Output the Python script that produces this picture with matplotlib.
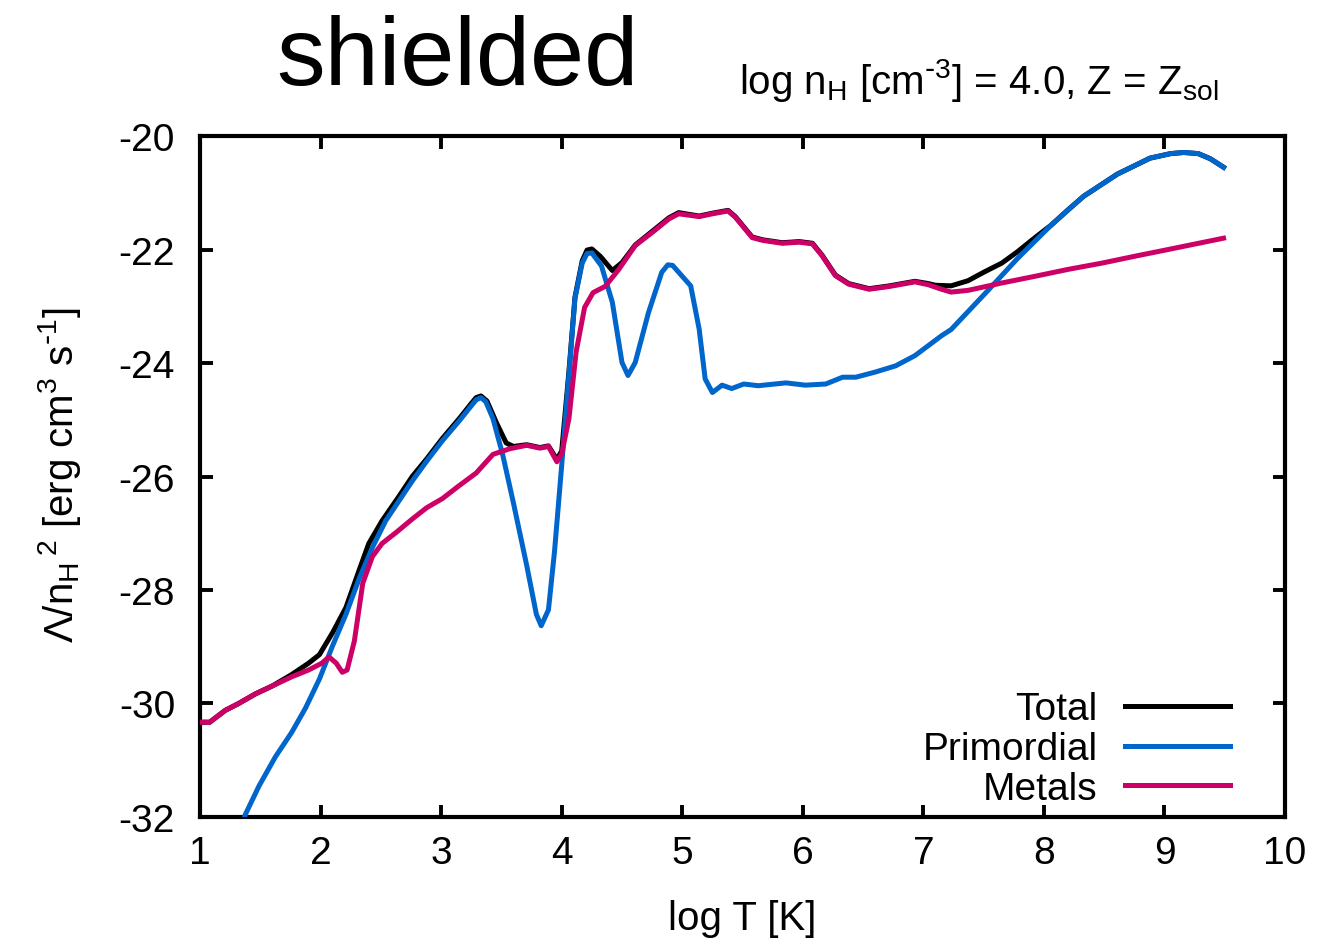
import matplotlib
matplotlib.use('Agg')
import matplotlib.pyplot as plt

plt.rcParams['font.family'] = ['Liberation Sans', 'DejaVu Sans']
plt.rcParams['mathtext.default'] = 'regular'
plt.rcParams['axes.unicode_minus'] = False

# Metals cooling curve (log T, log Lambda/nH^2)
metals_x = [1.00, 1.08, 1.21, 1.32, 1.46, 1.60, 1.76, 1.90, 2.01, 2.07, 2.13, 2.18,
            2.22, 2.28, 2.35, 2.43, 2.51, 2.63, 2.76, 2.88, 3.01, 3.15, 3.29, 3.43,
            3.57, 3.71, 3.82, 3.89, 3.96, 4.00, 4.06, 4.12, 4.19, 4.26, 4.36, 4.47,
            4.61, 4.75, 4.89, 4.97, 5.14, 5.25, 5.38, 5.44, 5.58, 5.67, 5.83, 5.97,
            6.08, 6.16, 6.27, 6.38, 6.55, 6.72, 6.93, 7.04, 7.15, 7.23, 7.37, 7.65,
            7.93, 8.20, 8.48, 8.75, 9.03, 9.49]
metals_y = [-30.33, -30.33, -30.12, -30.00, -29.83, -29.69, -29.53, -29.41, -29.29, -29.18, -29.29, -29.45,
            -29.41, -28.90, -27.88, -27.41, -27.18, -26.98, -26.75, -26.55, -26.39, -26.16, -25.94, -25.61,
            -25.51, -25.45, -25.50, -25.47, -25.74, -25.60, -24.98, -23.80, -23.02, -22.76, -22.65, -22.36,
            -21.93, -21.70, -21.46, -21.37, -21.42, -21.37, -21.32, -21.43, -21.79, -21.84, -21.89, -21.87,
            -21.90, -22.11, -22.46, -22.61, -22.70, -22.65, -22.57, -22.62, -22.70, -22.75, -22.72, -22.59,
            -22.47, -22.35, -22.24, -22.12, -22.00, -21.80]

# Primordial cooling curve
prim_x = [1.33, 1.375, 1.49, 1.625, 1.76, 1.875, 1.99, 2.10, 2.21, 2.32, 2.43, 2.54,
          2.65, 2.76, 2.88, 3.01, 3.15, 3.24, 3.29, 3.33, 3.37, 3.43, 3.51, 3.60, 3.71,
          3.79, 3.83, 3.89, 3.94, 4.00, 4.06, 4.11, 4.17, 4.21, 4.25, 4.33, 4.42, 4.50,
          4.55, 4.61, 4.72, 4.83, 4.88, 4.92, 4.97, 5.07, 5.14, 5.19, 5.25, 5.33, 5.41,
          5.51, 5.63, 5.86, 6.02, 6.19, 6.33, 6.44, 6.60, 6.77, 6.93, 7.15, 7.23,
          7.51, 7.78, 8.06, 8.33, 8.61, 8.88, 9.05, 9.16, 9.28, 9.38, 9.49]
prim_y = [-32.30, -31.96, -31.45, -30.94, -30.51, -30.08, -29.57, -28.98, -28.43, -27.80, -27.25, -26.78,
          -26.43, -26.08, -25.73, -25.37, -25.02, -24.78, -24.65, -24.61, -24.68, -24.98, -25.61, -26.47, -27.57,
          -28.43, -28.63, -28.35, -27.33, -25.80, -24.20, -22.86, -22.24, -22.07, -22.06, -22.29, -22.93, -23.99,
          -24.22, -23.99, -23.11, -22.40, -22.27, -22.28, -22.40, -22.64, -23.40, -24.28, -24.52, -24.39, -24.45,
          -24.37, -24.40, -24.35, -24.39, -24.37, -24.25, -24.25, -24.16, -24.05, -23.87, -23.52, -23.41,
          -22.78, -22.16, -21.57, -21.06, -20.67, -20.39, -20.31, -20.29, -20.31, -20.40, -20.55]

# Total cooling curve
total_x = [1.00, 1.08, 1.21, 1.32, 1.46, 1.60, 1.76, 1.90, 1.99, 2.10, 2.21, 2.32,
           2.40, 2.51, 2.65, 2.76, 2.88, 3.01, 3.15, 3.24, 3.29, 3.33, 3.38, 3.46, 3.54,
           3.60, 3.71, 3.82, 3.89, 3.96, 4.00, 4.06, 4.11, 4.17, 4.21, 4.25, 4.32, 4.42,
           4.50, 4.61, 4.75, 4.89, 4.97, 5.14, 5.25, 5.38, 5.44, 5.58, 5.67, 5.83,
           5.97, 6.08, 6.16, 6.27, 6.38, 6.55, 6.72, 6.93, 7.04, 7.10, 7.23, 7.37,
           7.51, 7.65, 7.78, 7.92, 8.06, 8.20, 8.33, 8.61, 8.88, 9.05, 9.16, 9.28, 9.38, 9.49]
total_y = [-30.33, -30.33, -30.12, -30.00, -29.83, -29.69, -29.49, -29.29, -29.14, -28.75, -28.31, -27.65,
           -27.18, -26.78, -26.35, -26.00, -25.69, -25.33, -24.98, -24.74, -24.61, -24.58, -24.67, -25.06, -25.41,
           -25.47, -25.44, -25.49, -25.46, -25.70, -25.55, -24.15, -22.84, -22.20, -22.01, -21.99, -22.12, -22.37,
           -22.23, -21.92, -21.68, -21.44, -21.35, -21.41, -21.36, -21.31, -21.42, -21.78, -21.83, -21.88,
           -21.86, -21.89, -22.10, -22.45, -22.60, -22.69, -22.64, -22.56, -22.60, -22.63, -22.64, -22.55,
           -22.39, -22.24, -22.04, -21.80, -21.57, -21.30, -21.06, -20.67, -20.39, -20.31, -20.29, -20.31, -20.40, -20.55]

xticks = [1, 2, 3, 4, 5, 6, 7, 8, 9, 10]
yticks = [-32, -30, -28, -26, -24, -22, -20]

fig = plt.figure(figsize=(13.3, 9.45), dpi=100)
ax = fig.add_axes([0.1504, 0.1344, 0.8158, 0.7206])

ax.plot(total_x, total_y, color='black', lw=3.6, label='Total', zorder=2,
        solid_joinstyle='round')
ax.plot(prim_x, prim_y, color='#0066cc', lw=3.6, label='Primordial', zorder=3,
        solid_joinstyle='round')
ax.plot(metals_x, metals_y, color='#cc0066', lw=3.6, label='Metals', zorder=4,
        solid_joinstyle='round')

ax.set_xlim(1, 10)
ax.set_ylim(-32, -20)
ax.set_xticks(xticks)
ax.set_yticks(yticks)
ax.tick_params(direction='in', length=9, width=2.8, labelsize=28,
               top=True, right=True)
ax.tick_params(axis='x', pad=13)
ax.tick_params(axis='y', pad=18)
for s in ax.spines.values():
    s.set_linewidth(3)

leg = ax.legend(loc='lower right', bbox_to_anchor=(0.967, -0.014), frameon=False,
                markerfirst=False, fontsize=28, handlelength=2.7,
                handletextpad=0.7, labelspacing=0.1, borderaxespad=0.1)

fig.text(0.344, 0.910, 'shielded', fontsize=70, ha='center', va='baseline')
fig.text(0.556, 0.901, r'log n$_H$ [cm$^{\text{-}3}$] = 4.0, Z = Z$_{sol}$',
         fontsize=29, ha='left', va='baseline')
fig.text(0.045, 0.497, r'$\Lambda$/n$_H$$^{\,2}$ [erg cm$^3$ s$^{\text{-}1}$]',
         fontsize=29, rotation=90, ha='center', va='center')
fig.text(0.558, 0.028, 'log T [K]', fontsize=29, ha='center', va='center')

fig.savefig('out.png', dpi=100)
